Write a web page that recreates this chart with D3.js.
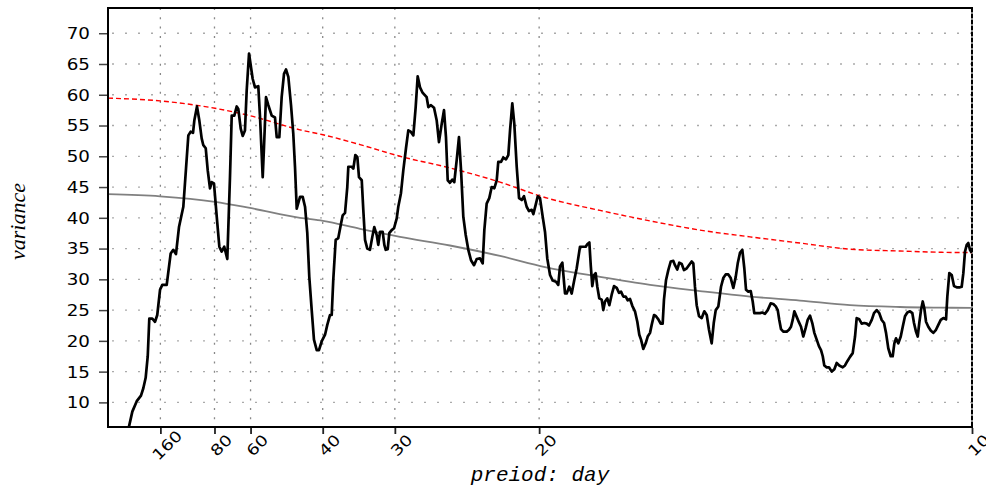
<!DOCTYPE html>
<html>
<head>
<meta charset="utf-8">
<script src="https://cdn.jsdelivr.net/npm/d3@7/dist/d3.min.js"></script>
<style>
  html, body { margin: 0; padding: 0; background: #fff; }
  svg { display: block; }
</style>
</head>
<body>
<svg id="chart" width="986" height="488"></svg>
<script>
/*
 * Variance spectrum vs. frequency (x axis labelled by period in days).
 * Black: smoothed spectrum; gray: fitted background; red dashed: confidence level.
 */

// tick labels
const periodTicks = [160, 80, 60, 40, 30, 20, 10];
const varianceTicks = [10, 15, 20, 25, 30, 35, 40, 45, 50, 55, 60, 65, 70];

// smoothed spectrum: [frequency (cycles/day), variance]
const spectrum = [
  [0.00263,6.1],[0.00301,8.5],[0.00352,10.2],[0.00401,11.1],[0.00428,12.3],[0.00455,14.0],[0.00479,17.5],
  [0.00497,23.6],[0.00532,23.6],[0.00563,23.1],[0.00589,24.2],[0.00621,28.3],[0.00647,29.1],[0.00698,29.1],
  [0.00744,34.2],[0.00774,34.8],[0.00805,34.1],[0.00840,38.5],[0.00890,41.8],[0.00921,48.0],[0.00948,53.4],
  [0.00975,54.0],[0.01002,53.8],[0.01017,55.8],[0.01048,58.1],[0.01075,55.8],[0.01102,52.9],[0.01121,51.8],
  [0.01149,51.3],[0.01172,47.7],[0.01198,44.8],[0.01218,45.8],[0.01244,45.6],[0.01276,40.2],[0.01306,35.3],
  [0.01333,34.5],[0.01363,35.3],[0.01398,33.3],[0.01429,46.6],[0.01449,56.6],[0.01479,56.6],[0.01507,58.1],
  [0.01525,57.7],[0.01553,54.5],[0.01576,53.3],[0.01602,54.2],[0.01622,60.7],[0.01649,66.7],[0.01691,62.6],
  [0.01718,61.2],[0.01756,61.4],[0.01776,56.4],[0.01807,46.6],[0.01822,51.5],[0.01845,59.6],[0.01872,58.3],
  [0.01911,56.6],[0.01949,56.3],[0.01969,53.1],[0.01999,53.1],[0.02026,59.6],[0.02053,63.4],[0.02076,64.1],
  [0.02103,62.9],[0.02134,58.3],[0.02160,53.7],[0.02180,48.3],[0.02200,41.5],[0.02238,43.4],[0.02269,43.4],
  [0.02296,41.8],[0.02322,37.5],[0.02345,30.4],[0.02373,25.0],[0.02399,20.2],[0.02431,18.5],[0.02457,18.5],
  [0.02488,19.9],[0.02527,21.0],[0.02553,22.6],[0.02584,24.2],[0.02604,24.2],[0.02622,29.9],[0.02650,36.4],
  [0.02680,36.7],[0.02708,38.8],[0.02731,40.4],[0.02758,40.8],[0.02784,45.0],[0.02796,48.3],[0.02835,48.3],
  [0.02854,48.0],[0.02877,50.2],[0.02900,49.9],[0.02919,46.6],[0.02951,46.1],[0.02969,41.3],[0.02989,36.4],
  [0.03015,35.0],[0.03046,34.8],[0.03073,36.9],[0.03096,38.5],[0.03124,37.2],[0.03142,35.6],[0.03162,37.7],
  [0.03193,37.7],[0.03212,35.6],[0.03228,34.8],[0.03251,34.9],[0.03269,37.5],[0.03297,38.0],[0.03324,38.3],
  [0.03355,39.9],[0.03373,41.8],[0.03404,44.0],[0.03431,47.7],[0.03462,51.3],[0.03489,54.2],[0.03517,54.0],
  [0.03547,53.4],[0.03574,58.0],[0.03597,63.0],[0.03624,61.2],[0.03651,60.4],[0.03682,59.9],[0.03701,59.6],
  [0.03720,58.0],[0.03751,58.3],[0.03786,57.9],[0.03817,55.8],[0.03843,52.3],[0.03875,55.3],[0.03901,57.5],
  [0.03924,53.1],[0.03944,46.1],[0.03970,45.7],[0.03997,46.2],[0.04020,45.8],[0.04048,49.4],[0.04074,53.1],
  [0.04098,47.7],[0.04124,40.2],[0.04152,37.2],[0.04182,34.8],[0.04213,33.1],[0.04248,32.3],[0.04279,33.3],
  [0.04317,33.4],[0.04348,32.6],[0.04367,38.0],[0.04394,42.3],[0.04424,43.2],[0.04452,45.0],[0.04482,44.8],
  [0.04510,46.1],[0.04528,49.1],[0.04560,49.1],[0.04586,49.8],[0.04617,49.5],[0.04644,50.2],[0.04664,54.2],
  [0.04690,58.6],[0.04713,55.3],[0.04741,48.3],[0.04768,43.2],[0.04799,42.9],[0.04825,43.5],[0.04856,41.8],
  [0.04883,41.1],[0.04914,41.3],[0.04933,40.6],[0.04960,42.1],[0.04984,43.5],[0.05010,43.2],[0.05041,40.2],
  [0.05068,37.7],[0.05094,33.4],[0.05126,30.7],[0.05157,29.8],[0.05195,29.6],[0.05221,29.1],[0.05241,32.1],
  [0.05268,32.7],[0.05299,27.7],[0.05318,27.7],[0.05348,28.8],[0.05376,27.7],[0.05406,29.9],[0.05434,31.8],
  [0.05472,35.3],[0.05503,35.3],[0.05538,35.3],[0.05556,35.7],[0.05580,36.0],[0.05596,32.3],[0.05614,28.9],
  [0.05634,30.7],[0.05653,31.0],[0.05672,28.8],[0.05695,26.9],[0.05723,26.7],[0.05741,25.0],[0.05761,26.4],
  [0.05787,26.9],[0.05811,25.8],[0.05838,27.5],[0.05865,28.9],[0.05896,28.6],[0.05923,27.8],[0.05946,28.0],
  [0.05972,27.2],[0.06000,27.2],[0.06023,26.6],[0.06050,26.8],[0.06076,25.7],[0.06107,24.8],[0.06134,23.1],
  [0.06157,21.0],[0.06177,20.2],[0.06203,18.7],[0.06231,19.6],[0.06254,20.7],[0.06281,21.3],[0.06300,22.6],
  [0.06327,24.2],[0.06350,24.0],[0.06377,23.5],[0.06404,22.8],[0.06427,22.8],[0.06442,26.7],[0.06466,29.9],
  [0.06492,31.5],[0.06520,32.9],[0.06550,33.0],[0.06569,32.3],[0.06596,31.6],[0.06619,32.7],[0.06647,32.5],
  [0.06673,31.5],[0.06705,31.8],[0.06762,32.9],[0.06781,32.6],[0.06800,28.8],[0.06820,25.8],[0.06847,24.0],
  [0.06878,23.7],[0.06908,24.8],[0.06936,24.2],[0.06962,21.8],[0.06993,19.6],[0.07017,22.9],[0.07040,25.0],
  [0.07070,25.6],[0.07101,28.8],[0.07127,30.2],[0.07155,30.8],[0.07185,30.8],[0.07213,30.2],[0.07243,28.6],
  [0.07271,30.4],[0.07294,32.6],[0.07320,34.3],[0.07347,34.8],[0.07370,31.8],[0.07390,28.3],[0.07416,28.0],
  [0.07444,28.1],[0.07467,26.4],[0.07485,24.5],[0.07513,24.5],[0.07551,24.5],[0.07578,24.6],[0.07609,24.4],
  [0.07640,25.0],[0.07675,26.1],[0.07705,26.0],[0.07733,25.6],[0.07756,25.0],[0.07774,23.4],[0.07794,21.9],
  [0.07820,21.5],[0.07860,21.5],[0.07886,21.8],[0.07909,22.3],[0.07929,23.4],[0.07948,24.8],[0.07975,23.9],
  [0.08002,23.0],[0.08025,22.3],[0.08051,20.7],[0.08079,22.1],[0.08102,23.4],[0.08129,24.1],[0.08155,22.9],
  [0.08179,21.3],[0.08206,20.2],[0.08233,19.1],[0.08256,18.5],[0.08276,17.5],[0.08294,16.0],[0.08322,15.7],
  [0.08348,15.7],[0.08380,15.0],[0.08410,15.4],[0.08437,16.4],[0.08467,16.0],[0.08507,15.7],[0.08533,16.0],
  [0.08560,16.7],[0.08591,17.4],[0.08622,18.0],[0.08649,20.7],[0.08668,23.7],[0.08698,23.5],[0.08726,22.8],
  [0.08756,22.9],[0.08784,22.8],[0.08810,22.5],[0.08842,23.4],[0.08868,24.5],[0.08899,25.0],[0.08929,24.5],
  [0.08957,23.4],[0.08984,22.9],[0.09007,21.3],[0.09033,18.8],[0.09061,17.5],[0.09084,17.5],[0.09103,19.6],
  [0.09122,20.4],[0.09149,19.6],[0.09177,20.7],[0.09200,22.3],[0.09226,24.0],[0.09253,24.6],[0.09284,24.8],
  [0.09311,24.5],[0.09330,22.9],[0.09353,21.5],[0.09373,20.7],[0.09391,22.9],[0.09411,25.0],[0.09431,26.4],
  [0.09449,25.3],[0.09469,23.1],[0.09495,22.3],[0.09523,21.7],[0.09553,21.3],[0.09584,21.8],[0.09611,22.6],
  [0.09639,23.4],[0.09669,23.7],[0.09700,23.5],[0.09715,27.2],[0.09738,31.0],[0.09766,30.7],[0.09792,28.9],
  [0.09823,28.7],[0.09861,28.7],[0.09881,28.8],[0.09900,31.0],[0.09919,34.5],[0.09939,35.6],[0.09957,35.9],
  [0.09977,34.8],[0.09997,34.3]
];

// background fit and confidence level, sampled along frequency
const smoothFreq = [0.0002, 0.00621, 0.01256, 0.0166, 0.02238, 0.02503, 0.02931, 0.03393, 0.0397, 0.04548,
                    0.05068, 0.05703, 0.06281, 0.06858, 0.07436, 0.08013, 0.08591, 0.09168, 0.0963, 0.1];
const fitVar   = [43.85, 43.5, 42.6, 41.6, 40.0, 39.5, 38.2, 36.9, 35.5, 33.8,
                  32.0, 30.4, 29.1, 28.1, 27.2, 26.55, 25.8, 25.5, 25.4, 25.35];
const confVar  = [59.45, 59.0, 57.8, 56.6, 54.3, 53.5, 51.9, 50.0, 48.1, 45.8,
                  43.3, 41.2, 39.5, 38.0, 36.9, 35.9, 34.9, 34.6, 34.4, 34.35];

const plot = { left: 108, right: 972, top: 8, bottom: 427 };

const x = d3.scaleLinear().domain([0.0002, 0.1]).range([plot.left, plot.right]);
const y = d3.scaleLinear().domain([6, 74.1]).range([plot.bottom, plot.top]);

const svg = d3.select('#chart');

svg.append('defs').append('clipPath').attr('id', 'plot-clip')
  .append('rect')
  .attr('x', plot.left).attr('y', plot.top)
  .attr('width', plot.right - plot.left).attr('height', plot.bottom - plot.top);

// grid
const grid = svg.append('g');
grid.selectAll('line.h').data(varianceTicks).join('line')
  .attr('class', 'h')
  .attr('x1', plot.left + 4).attr('x2', plot.right)
  .attr('y1', d => y(d)).attr('y2', d => y(d))
  .attr('stroke', '#aaa').attr('stroke-width', 1.3)
  .attr('stroke-dasharray', '2,11');
grid.selectAll('line.v').data(periodTicks.filter(p => p !== 10)).join('line')
  .attr('class', 'v')
  .attr('x1', d => x(1 / d)).attr('x2', d => x(1 / d))
  .attr('y1', plot.top).attr('y2', plot.bottom)
  .attr('stroke', '#888').attr('stroke-width', 1.3)
  .attr('stroke-dasharray', '2,7.3');

// right frame edge (gray) with the dotted 10-day gridline on top
svg.append('line')
  .attr('x1', x(1 / 10)).attr('x2', x(1 / 10))
  .attr('y1', plot.top).attr('y2', plot.bottom)
  .attr('stroke', '#888').attr('stroke-width', 2);
svg.append('line')
  .attr('x1', x(1 / 10)).attr('x2', x(1 / 10))
  .attr('y1', plot.top).attr('y2', plot.bottom)
  .attr('stroke', '#000').attr('stroke-width', 2)
  .attr('stroke-dasharray', '4,2');

// curves
const smoothLine = d3.line()
  .x((_, i) => x(smoothFreq[i]))
  .y(d => y(d))
  .curve(d3.curveMonotoneX);

const marks = svg.append('g').attr('clip-path', 'url(#plot-clip)');

marks.append('path').datum(fitVar)
  .attr('d', smoothLine)
  .attr('fill', 'none')
  .attr('stroke', '#808080')
  .attr('stroke-width', 1.8);

marks.append('path').datum(confVar)
  .attr('d', smoothLine)
  .attr('fill', 'none')
  .attr('stroke', '#ff0000')
  .attr('stroke-width', 1.4)
  .attr('stroke-dasharray', '5,3');

marks.append('path').datum(spectrum)
  .attr('d', d3.line().x(d => x(d[0])).y(d => y(d[1])))
  .attr('fill', 'none')
  .attr('stroke', '#000')
  .attr('stroke-width', 2.7)
  .attr('stroke-linejoin', 'round');

// frame: top, left axis, bottom axis
svg.append('line')
  .attr('x1', plot.left).attr('x2', plot.right + 1)
  .attr('y1', plot.top).attr('y2', plot.top)
  .attr('stroke', '#000').attr('stroke-width', 2);
svg.append('line')
  .attr('x1', plot.left).attr('x2', plot.left)
  .attr('y1', plot.top - 1).attr('y2', plot.bottom + 1)
  .attr('stroke', '#000').attr('stroke-width', 2);
svg.append('line')
  .attr('x1', plot.left - 1).attr('x2', plot.right + 1)
  .attr('y1', plot.bottom).attr('y2', plot.bottom)
  .attr('stroke', '#000').attr('stroke-width', 2);

// y axis ticks + labels
const yAxis = d3.axisLeft(y).tickValues(varianceTicks).tickSize(8).tickPadding(8);
const yg = svg.append('g')
  .attr('transform', `translate(${plot.left - 1},0)`)
  .call(yAxis);
yg.select('.domain').remove();
yg.selectAll('.tick line').attr('stroke', '#444').attr('stroke-width', 1.5);
yg.selectAll('.tick text').remove();
yg.selectAll('.tick').append('g')
  .attr('transform', 'translate(-17,0) scale(1.22,1)')
  .append('text')
  .attr('text-anchor', 'end')
  .attr('dy', '0.36em')
  .attr('font-family', '"DejaVu Sans", sans-serif')
  .attr('font-size', 15)
  .attr('fill', '#000')
  .text(d => d);

// x axis ticks + rotated labels
const xAxis = d3.axisBottom(x)
  .tickValues(periodTicks.map(p => 1 / p))
  .tickSize(6)
  .tickFormat(f => Math.round(1 / f));
const xg = svg.append('g')
  .attr('transform', `translate(0,${plot.bottom + 1})`)
  .call(xAxis);
xg.select('.domain').remove();
xg.selectAll('.tick line').attr('stroke', '#222').attr('stroke-width', 1.8);
xg.selectAll('.tick text').remove();
xg.selectAll('.tick').append('g')
  .attr('transform', 'translate(10,21) rotate(-45) scale(1.22,1)')
  .append('text')
  .attr('text-anchor', 'middle')
  .attr('font-family', '"DejaVu Sans", sans-serif')
  .attr('font-size', 15)
  .attr('fill', '#000')
  .text(f => Math.round(1 / f));

// axis titles
svg.append('text')
  .attr('transform', `translate(25,${(plot.top + plot.bottom) / 2 + 4}) rotate(-90)`)
  .attr('text-anchor', 'middle')
  .attr('font-family', '"Liberation Serif", serif')
  .attr('font-style', 'italic')
  .attr('font-size', 22)
  .text('variance');

svg.append('text')
  .attr('x', (plot.left + plot.right) / 2)
  .attr('y', 481)
  .attr('text-anchor', 'middle')
  .attr('font-family', '"Liberation Mono", monospace')
  .attr('font-style', 'italic')
  .attr('font-size', 21)
  .text('preiod: day');
</script>
</body>
</html>
